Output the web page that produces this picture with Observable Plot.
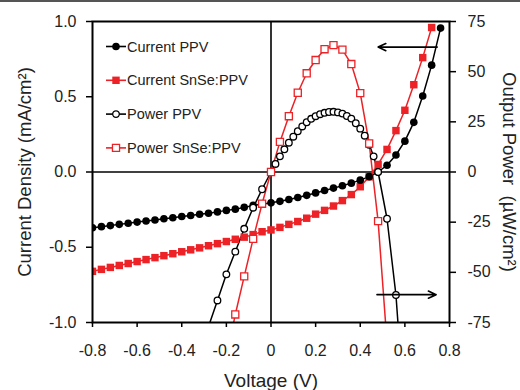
<!DOCTYPE html>
<html><head><meta charset="utf-8">
<script src="https://cdn.jsdelivr.net/npm/d3@7"></script>
<script src="https://cdn.jsdelivr.net/npm/@observablehq/plot@0.6"></script>
<style>
body{margin:0;background:#fff;}
#wrap{position:relative;width:520px;height:390px;}
#topline{position:absolute;left:0;top:0;width:520px;height:2px;background:#555;}
</style></head>
<body><div id="wrap"><div id="chart"></div><div id="topline"></div></div>
<script>
// ---- data ----
const seriesNames = ["Current PPV", "Current SnSe:PPV", "Power PPV", "Power SnSe:PPV"];

// voltage grid of the current curves (V)
const vCurrent = [-0.80,-0.76,-0.72,-0.68,-0.64,-0.60,-0.56,-0.52,-0.48,-0.44,-0.40,-0.36,-0.32,-0.28,-0.24,-0.20,-0.16,-0.12,-0.08,-0.04,
  0.00,0.04,0.08,0.12,0.16,0.20,0.24,0.28,0.32,0.36,0.40,0.44,0.48,0.52,0.56,0.60,0.64,0.68,0.72,0.76];
// current density (mA/cm2)
const currentPPV = [-0.370,-0.363,-0.356,-0.348,-0.341,-0.333,-0.326,-0.319,-0.311,-0.304,-0.296,-0.289,-0.281,-0.274,-0.265,-0.255,-0.247,-0.235,-0.222,-0.214,
  -0.205,-0.195,-0.183,-0.169,-0.155,-0.139,-0.123,-0.107,-0.091,-0.074,-0.054,-0.031,0.000,0.045,0.113,0.205,0.330,0.505,0.710,0.956];
const currentSnSe = [-0.660,-0.647,-0.634,-0.621,-0.608,-0.595,-0.582,-0.569,-0.556,-0.543,-0.530,-0.517,-0.504,-0.490,-0.476,-0.462,-0.447,-0.433,-0.416,-0.397,
  -0.385,-0.368,-0.348,-0.329,-0.307,-0.280,-0.255,-0.226,-0.190,-0.150,-0.098,-0.032,0.050,0.150,0.275,0.410,0.580,0.760,0.960];

// output power (uW/cm2)
const vPowerPPV = [-0.28,-0.24,-0.20,-0.16,-0.12,-0.08,-0.04,0.00,0.02,0.04,0.06,0.08,0.10,0.12,0.14,0.16,0.18,0.20,0.22,0.24,0.26,0.28,
  0.30,0.32,0.34,0.36,0.38,0.40,0.42,0.44,0.46,0.48,0.52,0.56,0.60];
const powerPPV = [-77,-64,-51,-39.7,-28.3,-17.8,-8.6,0,4.0,7.8,11.3,14.6,17.6,20.3,22.7,24.8,26.5,27.8,28.8,29.5,29.9,30.0,
  29.7,29.1,27.9,26.6,24.3,21.6,18.1,13.6,7.8,0.0,-23.3,-61.3,-123];
const vPowerSnSe = [-0.20,-0.16,-0.12,-0.08,-0.04,0.00,0.04,0.08,0.12,0.16,0.20,0.24,0.28,0.32,0.36,0.40,0.44,0.48,0.52];
const powerSnSe = [-93,-71,-52,-33.3,-15.8,0,15.0,27.8,39.5,49.2,55.8,61.2,63.2,61.0,53.8,39.3,14.2,-24.5,-85];

// axes
const xTicks = [-0.8,-0.6,-0.4,-0.2,0,0.2,0.4,0.6,0.8];
const yTicks = [-1,-0.5,0,0.5,1];
const powerTicks = [-75,-50,-25,0,25,50,75];
const powerMax = 75; // right axis spans -75..75 while left spans -1..1
const xLabel = "Voltage (V)";
const yLabel = "Current Density (mA/cm²)";
const y2Label = "Output Power  (µW/cm²)";

// annotation arrows (data units: V, mA/cm2)
const arrowsData = [
  {x1: 0.745, y1: 0.83, x2: 0.48, y2: 0.83},
  {x1: 0.475, y1: -0.815, x2: 0.74, y2: -0.815}
];

// ---- build ----
const red = "#ec2227";
const font = "'Liberation Sans', Arial, Helvetica, sans-serif";
const curPPV = vCurrent.map((v, i) => ({v, j: currentPPV[i]}));
const curSnSe = currentSnSe.map((j, i) => ({v: vCurrent[i], j}));
const powPPV = vPowerPPV.map((v, i) => ({v, p: powerPPV[i]}));
const powSnSe = vPowerSnSe.map((v, i) => ({v, p: powerSnSe[i]}));

const styles = [
  {stroke: "black", fill: "black", symbol: "circle", r: 3.8},
  {stroke: red, fill: red, symbol: "square", r: 4.2},
  {stroke: "black", fill: "white", symbol: "circle", r: 3.3},
  {stroke: red, fill: "white", symbol: "square", r: 4.0}
];

function legend(index, scales, values, dimensions) {
  const g = d3.create("svg:g").attr("font-family", font).attr("font-size", 14.5).attr("fill", "#222")
    .attr("text-anchor", "start");
  const x0 = dimensions.marginLeft, y0 = dimensions.marginTop;
  seriesNames.forEach((name, i) => {
    const s = styles[i];
    const cy = y0 + 25.5 + i * 33.8;
    g.append("line").attr("x1", x0 + 14).attr("x2", x0 + 34).attr("y1", cy).attr("y2", cy)
      .attr("stroke", s.stroke).attr("stroke-width", 1.6);
    g.append("path").attr("transform", `translate(${x0 + 24},${cy})`)
      .attr("d", d3.symbol(s.symbol === "circle" ? d3.symbolCircle : d3.symbolSquare, Math.PI * s.r * s.r)())
      .attr("fill", s.fill).attr("stroke", s.stroke).attr("stroke-width", s.fill === "white" ? 1.3 : 0);
    g.append("text").attr("x", x0 + 35).attr("y", cy).attr("dy", "0.35em").attr("text-anchor", "start").text(name);
  });
  return g.node();
}

const chart = Plot.plot({
  width: 520, height: 390,
  marginLeft: 92, marginRight: 71, marginTop: 21, marginBottom: 68,
  style: {fontFamily: font, fontSize: "16px", color: "#222", background: "white", overflow: "visible"},
  x: {domain: [-0.8, 0.8]},
  y: {domain: [-1, 1]},
  marks: [
    Plot.ruleX([0], {stroke: "black", strokeWidth: 1.6}),
    Plot.ruleY([0], {stroke: "black", strokeWidth: 1.6}),
    // power lines (scaled onto the left axis range)
    Plot.line(powPPV, {x: "v", y: d => d.p / powerMax, stroke: "black", strokeWidth: 1.5, clip: true}),
    Plot.line(powSnSe, {x: "v", y: d => d.p / powerMax, stroke: red, strokeWidth: 1.5, clip: true}),
    Plot.line(curPPV, {x: "v", y: "j", stroke: "black", strokeWidth: 1.5, clip: true}),
    Plot.line(curSnSe, {x: "v", y: "j", stroke: red, strokeWidth: 1.5, clip: true}),
    Plot.dot(curSnSe, {x: "v", y: "j", symbol: "square", r: styles[1].r, fill: red, stroke: "none", clip: true}),
    Plot.dot(curPPV, {x: "v", y: "j", symbol: "circle", r: styles[0].r, fill: "black", stroke: "none", clip: true}),
    Plot.dot(powPPV, {x: "v", y: d => d.p / powerMax, symbol: "circle", r: styles[2].r, fill: "white", stroke: "black", strokeWidth: 1.3, clip: true}),
    Plot.dot(powSnSe, {x: "v", y: d => d.p / powerMax, symbol: "square", r: styles[3].r, fill: "white", stroke: red, strokeWidth: 1.3, clip: true}),
    Plot.arrow(arrowsData, {x1: "x1", y1: "y1", x2: "x2", y2: "y2", stroke: "black", strokeWidth: 1.6, headLength: 8, headAngle: 50}),
    Plot.frame({stroke: "black", strokeWidth: 2}),
    Plot.axisX({ticks: xTicks, tickFormat: d => d === 0 ? "0" : d.toFixed(1), tickSize: 5, tickPadding: 17, fontSize: 16, label: null, stroke: "black", strokeWidth: 1.5}),
    Plot.axisY({ticks: yTicks, tickFormat: d => d.toFixed(1), tickSize: 6, tickPadding: 10, fontSize: 16, label: null, stroke: "black", strokeWidth: 1.5}),
    Plot.axisY({anchor: "right", ticks: powerTicks.map(p => p / powerMax), tickFormat: d => String(Math.round(d * powerMax)), tickSize: 6, tickPadding: 12, fontSize: 16, label: null, stroke: "black", strokeWidth: 1.5}),
    Plot.text([xLabel], {frameAnchor: "bottom", dy: 58, text: d => d, fontSize: 19, lineAnchor: "middle", textAnchor: "middle", fill: "#222"}),
    Plot.text([yLabel], {frameAnchor: "left", dx: -67, rotate: -90, text: d => d, fontSize: 18.5, lineAnchor: "middle", textAnchor: "middle", fill: "#222"}),
    Plot.text([y2Label], {frameAnchor: "right", dx: 59, rotate: 90, text: d => d, fontSize: 18.5, lineAnchor: "middle", textAnchor: "middle", fill: "#222"}),
    legend
  ]
});
document.getElementById("chart").appendChild(chart);
</script>
</body></html>
